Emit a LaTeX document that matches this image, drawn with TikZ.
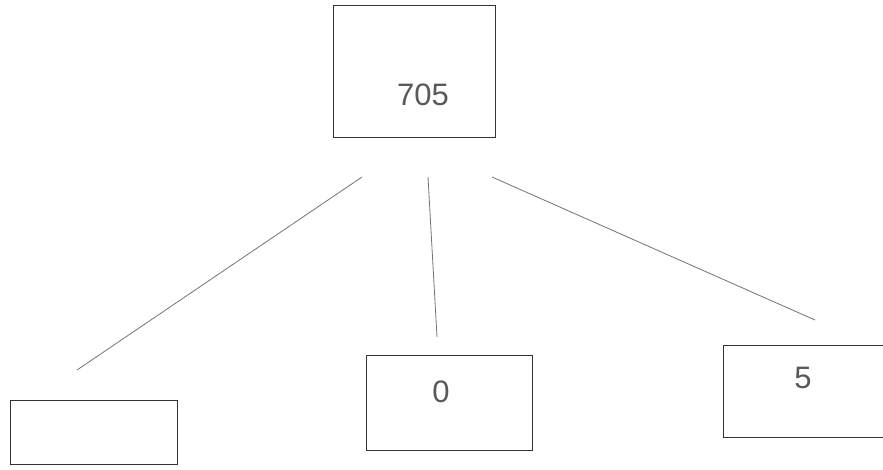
\documentclass[tikz,border=0pt]{standalone}
\usepackage{fontspec}
\setmainfont{Liberation Sans}
\begin{document}
\begin{tikzpicture}[x=1pt,y=-1pt]

\useasboundingbox (0,0) rectangle (883,469) ;

\tikzset{
  digitbox/.style={draw=black!80, line width=1pt, inner sep=0pt},
  digit/.style={text=black!65, font=\fontsize{31}{34}\selectfont},
  branch/.style={draw=black!55, line width=0.8pt}
}

\node[digitbox, minimum width=162pt, minimum height=132pt] (root) at (414,71) {} ;
\node[digitbox, minimum width=167pt, minimum height=64pt] (leftbox) at (93.5,432) {} ;
\node[digitbox, minimum width=166pt, minimum height=95pt] (midbox) at (449,402.5) {} ;
\node[digitbox, minimum width=166pt, minimum height=92pt] (rightbox) at (806,391) {} ;

\node[digit] (v705) at (423,95) {705} ;
\node[digit] (v0) at (441,392) {0} ;
\node[digit] (v5) at (803,378) {5} ;

\coordinate (l1) at (362,177) ;
\coordinate (l2) at (77,370) ;
\coordinate (m1) at (428,177) ;
\coordinate (m2) at (437,337) ;
\coordinate (r1) at (492,177) ;
\coordinate (r2) at (815,320) ;

\draw[branch] (l1) -- (l2) ;
\draw[branch] (m1) -- (m2) ;
\draw[branch] (r1) -- (r2) ;

\end{tikzpicture}
\end{document}
